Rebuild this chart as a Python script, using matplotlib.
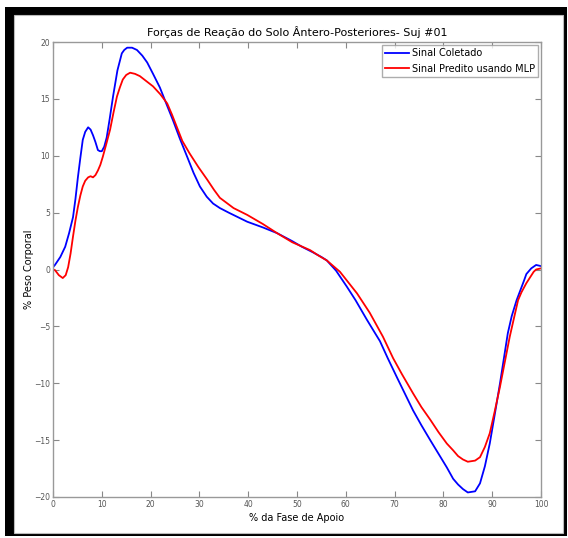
import matplotlib
matplotlib.use("Agg")
import matplotlib.pyplot as plt
from matplotlib.patches import Rectangle

# curves (x = % stance, y = % body weight)
x_col = [0, 0.4, 1.5, 2.5, 3.3, 4.1, 4.6, 5.1, 5.6, 6.1, 6.6, 7.2, 7.7, 8.2, 8.7,
         9.2, 9.6, 10, 10.5, 11, 11.6, 12.3, 13.2, 14.1, 14.6, 15.2, 16.2, 17.2,
         18.3, 19.3, 20.5, 21.9, 23.2, 24.6, 26, 27.5, 28.8, 30.1, 31.5, 32.8,
         34.2, 36, 39.8, 43, 45.9, 49, 51, 53.3, 55, 56.1, 58, 60.2, 62, 64.3,
         66, 67, 68.6, 70.5, 73.8, 75.5, 77.3, 79, 80.7, 82, 83, 84, 85, 86.5,
         87.5, 88.5, 89.5, 90.5, 91.6, 92.4, 93.2, 94, 95, 96.5, 97, 98, 99, 100]
y_col = [0.2, 0.4, 1.1, 2.0, 3.2, 4.6, 6.2, 8.1, 9.8, 11.4, 12.1, 12.5, 12.3,
         11.8, 11.2, 10.5, 10.4, 10.4, 10.8, 11.6, 13.2, 15.2, 17.5, 19.0, 19.3,
         19.5, 19.5, 19.3, 18.8, 18.2, 17.2, 16.0, 14.6, 13.1, 11.5, 9.9, 8.5,
         7.3, 6.4, 5.8, 5.4, 5.0, 4.2, 3.7, 3.2, 2.5, 2.0, 1.5, 1.1, 0.8, -0.1,
         -1.5, -2.7, -4.4, -5.6, -6.3, -7.8, -9.5, -12.4, -13.7, -15.0, -16.2,
         -17.4, -18.4, -18.9, -19.3, -19.6, -19.5, -18.8, -17.3, -15.3, -12.8,
         -10.0, -7.8, -5.6, -4.1, -2.7, -1.0, -0.4, 0.1, 0.4, 0.3]

x_mlp = [0, 0.4, 1.2, 2.0, 2.6, 3.1, 3.6, 4.1, 4.6, 5.1, 5.6, 6.1, 6.6, 7.2, 7.7,
         8.2, 8.7, 9.2, 9.7, 10.2, 10.9, 11.7, 12.4, 13.1, 13.7, 14.3, 15, 15.8,
         16.8, 17.8, 19, 20.5, 22, 23.4, 24.4, 25.4, 26.5, 28, 29.8, 31.6, 33,
         34.2, 37, 39.8, 43, 45.9, 49, 52.7, 54.5, 56.1, 58.8, 62.3, 64.9, 67.6,
         69.7, 71.5, 73.8, 75.5, 77.3, 79, 80.7, 82, 83, 84, 85, 86.5, 87.5,
         88.5, 89.5, 90.5, 91.6, 92.6, 93.6, 94.5, 95.3, 96, 97, 98.5, 99, 100]
y_mlp = [0.0, -0.05, -0.5, -0.75, -0.5, 0.2, 1.4, 2.9, 4.3, 5.5, 6.5, 7.3, 7.8,
         8.1, 8.2, 8.1, 8.3, 8.7, 9.2, 9.9, 11.0, 12.3, 13.8, 15.2, 16.0, 16.7,
         17.1, 17.3, 17.2, 17.0, 16.6, 16.1, 15.4, 14.6, 13.6, 12.5, 11.3, 10.2,
         9.0, 7.9, 7.0, 6.3, 5.4, 4.8, 4.0, 3.2, 2.4, 1.7, 1.2, 0.8, -0.2, -2.1,
         -3.8, -5.9, -7.8, -9.2, -10.9, -12.1, -13.2, -14.3, -15.3, -15.9,
         -16.4, -16.7, -16.9, -16.8, -16.5, -15.6, -14.4, -12.5, -10.3, -8.1,
         -5.9, -4.2, -2.7, -2.0, -1.2, -0.2, 0.0, 0.1]

fig = plt.figure(figsize=(5.68, 5.38), dpi=100)
fig.patches.append(Rectangle((5/568, 2/538), 562/568, 529/538, transform=fig.transFigure,
                             facecolor="black", edgecolor="none", zorder=-2))
fig.patches.append(Rectangle((14/568, 5/538), 549/568, 518/538, transform=fig.transFigure,
                             facecolor="white", edgecolor="#bbbbbb", lw=0.8, zorder=-1))

ax = fig.add_axes([53/568, 41/538, 488/568, 455/538])
ax.plot(x_col, y_col, color="blue", lw=1.3, label="Sinal Coletado")
ax.plot(x_mlp, y_mlp, color="red", lw=1.3, label="Sinal Predito usando MLP")

ax.set_xlim(0, 100)
ax.set_ylim(-20, 20)
ax.set_xticks(range(0, 101, 10))
ax.set_yticks(range(-20, 21, 5))
ax.tick_params(direction="in", length=4, width=0.8, colors="#888888",
               labelsize=5.5, labelcolor="#555555", top=True, right=True, pad=2)
for s in ax.spines.values():
    s.set_color("#999999")
    s.set_linewidth(1.0)

ax.set_title("Forças de Reação do Solo Ântero-Posteriores- Suj #01", fontsize=8, pad=4)
ax.set_xlabel("% da Fase de Apoio", fontsize=7, labelpad=3)
ax.set_ylabel("% Peso Corporal", fontsize=7, labelpad=0)

leg = ax.legend(loc="upper right", fontsize=7, frameon=True, fancybox=False,
                borderaxespad=0.3, handlelength=2.4, handletextpad=0.3,
                borderpad=0.35, labelspacing=0.55)
leg.get_frame().set_edgecolor("#999999")
leg.get_frame().set_linewidth(1.0)

fig.savefig("out.png", dpi=100)
